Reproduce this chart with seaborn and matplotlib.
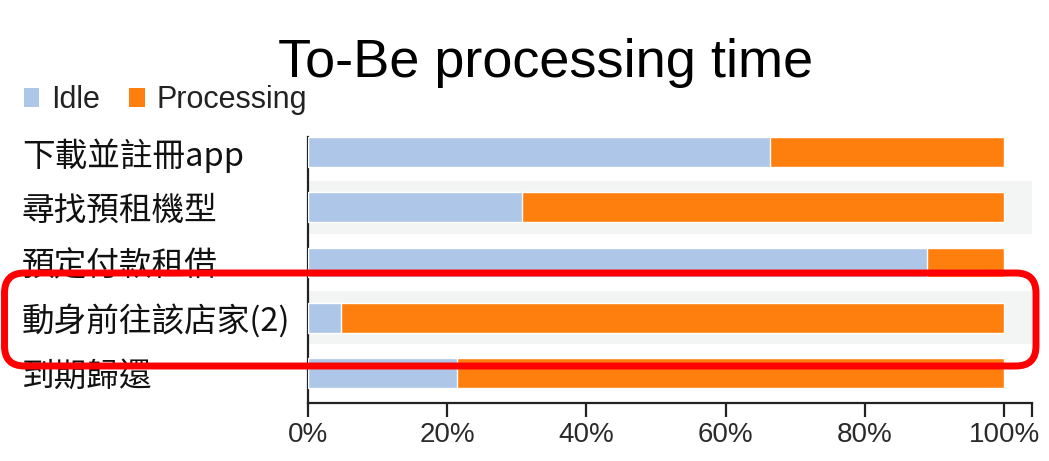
import numpy as np
import pandas as pd
import matplotlib
matplotlib.use("Agg")
import matplotlib.pyplot as plt
from matplotlib.patches import Patch, FancyBboxPatch
import seaborn as sns

# Share of each step's time spent idle vs. actively processing
steps = ["下載並註冊app", "尋找預租機型", "預定付款租借", "動身前往該店家(2)", "到期歸還"]
idle_share = [0.664, 0.307, 0.889, 0.048, 0.214]
processing_share = [0.336, 0.693, 0.111, 0.952, 0.786]
tick_values = [0.0, 0.2, 0.4, 0.6, 0.8, 1.0]
tick_labels = ["0%", "20%", "40%", "60%", "80%", "100%"]

IDLE_COLOR = "#aec7e8"
PROC_COLOR = "#ff7f0e"
BAND_COLOR = "#f3f4f4"

sns.set_theme(style="white")
plt.rcParams["font.family"] = ["Liberation Sans", "Noto Sans CJK TC", "DejaVu Sans"]

df = pd.DataFrame({
    "step": steps,
    "idle": idle_share,
    "processing": processing_share,
})
df["total"] = df["idle"] + df["processing"]

W, H = 1049, 461
fig = plt.figure(figsize=(W / 100, H / 100), dpi=100)
ax = fig.add_axes([308 / W, (H - 403) / H, 724 / W, (403 - 124.4) / H])

# alternating light bands behind rows 2 and 4
for i in (1, 3):
    ax.axhspan(i - 0.48, i + 0.48, color=BAND_COLOR, zorder=0.5, lw=0)

# stacked bars: full length in orange, idle portion on top in blue
sns.barplot(data=df, y="step", x="total", color=PROC_COLOR, saturation=1,
            width=0.54, errorbar=None, orient="h", ax=ax, zorder=2)
sns.barplot(data=df, y="step", x="idle", color=IDLE_COLOR, saturation=1,
            width=0.54, errorbar=None, orient="h", ax=ax, zorder=3)

n = len(steps)
ax.set_ylim(n - 0.5 + 0.043, -0.5)
ax.set_xlim(0, 1.04)
ax.set_xlabel("")
ax.set_ylabel("")

ax.set_xticks(tick_values + [1.04])
ax.set_xticklabels(tick_labels + [""])
ax.tick_params(axis="x", length=10, width=1.6, color="#222222", pad=4,
               labelsize=20, labelcolor="#2a2a2a", direction="out", bottom=True)

ax.tick_params(axis="y", length=0, pad=206)
for lbl in ax.get_yticklabels():
    lbl.set_ha("left")
    lbl.set_fontsize(23.5)
    lbl.set_color("#111111")
    lbl.set_fontfamily(["Noto Sans CJK TC", "DejaVu Sans"])

sns.despine(ax=ax, top=True, right=True)
for side in ("left", "bottom"):
    ax.spines[side].set_color("#222222")
    ax.spines[side].set_linewidth(1.6)
ax.spines["left"].set_bounds(-0.27, n - 0.5 + 0.043)

fig.text(546 / W, 1 - 77 / H, "To-Be processing time", ha="center",
         va="baseline", fontsize=39, color="#000000")

handles = [Patch(facecolor=IDLE_COLOR, edgecolor="none"),
           Patch(facecolor=PROC_COLOR, edgecolor="none")]
fig.legend(handles, ["Idle", "Processing"], loc="center left",
           bbox_to_anchor=(24 / W, 1 - 100 / H), ncol=2, frameon=False,
           fontsize=22, handlelength=0.5, handleheight=0.6,
           handletextpad=0.4, columnspacing=0.95, borderpad=0,
           borderaxespad=0, labelcolor="#222222")

# highlight frame around the fourth step
frame = FancyBboxPatch((0.045, 0.95), 10.315, 0.93,
                       boxstyle="round,pad=0,rounding_size=0.2",
                       transform=fig.dpi_scale_trans, fill=False,
                       edgecolor="#ff0000", linewidth=5.0, zorder=10,
                       clip_on=False)
fig.add_artist(frame)

fig.savefig("out.png", dpi=100, facecolor="white")
